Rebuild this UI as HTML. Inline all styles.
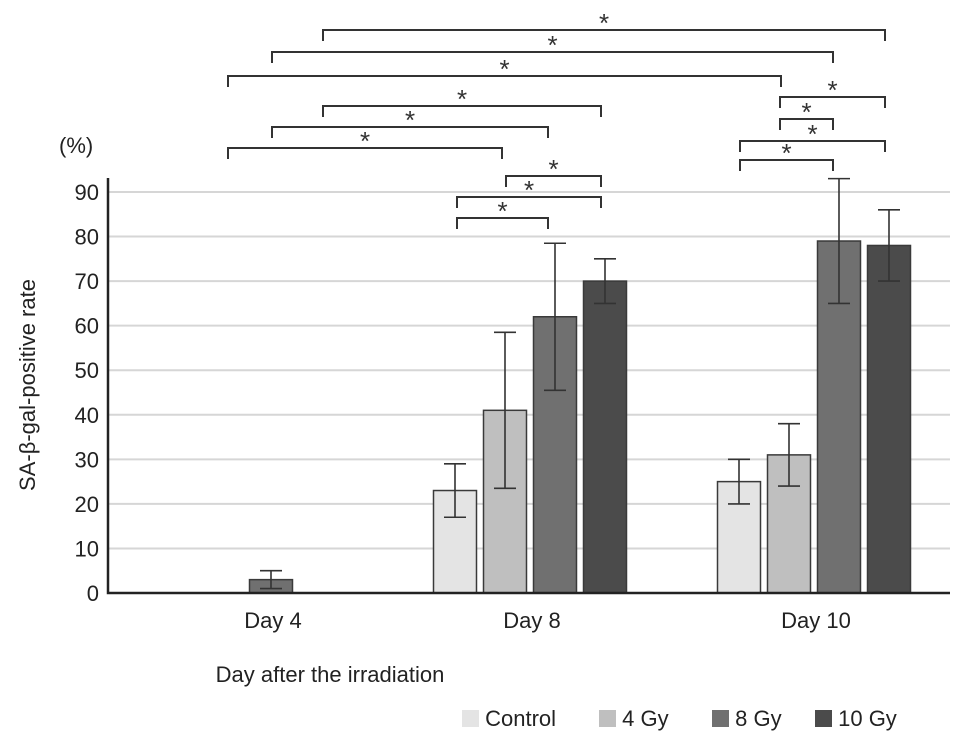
<!DOCTYPE html>
<html><head><meta charset="utf-8"><style>
body{margin:0;background:#fff;}
svg{display:block;font-family:"Liberation Sans",Arial,sans-serif;}
</style></head><body>
<svg id="chart" width="969" height="747" viewBox="0 0 969 747"></svg>
<script>
const categories = ["Day 4","Day 8","Day 10"];
const series = ["Control","4 Gy","8 Gy","10 Gy"];
const controlVals = [0,23,25];
const gy4Vals = [0,41,31];
const gy8Vals = [3,62,79];
const gy10Vals = [0,70,78];
const controlErr = [0,6,5];
const gy4Err = [0,17.5,7];
const gy8Err = [2,16.5,14];
const gy10Err = [0,5,8];
const yTicks = [0,10,20,30,40,50,60,70,80,90];
const colors = ["#e4e4e4","#bfbfbf","#707070","#4b4b4b"];

const NS="http://www.w3.org/2000/svg";
const svg=document.getElementById('chart');
function mk(tag,attrs,parent){const e=document.createElementNS(NS,tag);for(const k in attrs)e.setAttribute(k,attrs[k]);(parent||svg).appendChild(e);return e;}
const y0=593, yTop=192, yMax=90;
function yS(v){return y0-(v/yMax)*(y0-yTop);}
function xC(i){return 246+i*284;}
const barW=43, step=50;

yTicks.forEach(t=>{
  if(t>0){const g=mk('line',{x1:108,x2:950,y1:yS(t),y2:yS(t),stroke:'#d6d6d6','stroke-width':2});
  
  }
  const l=mk('text',{x:99,y:yS(t)+8,'text-anchor':'end','font-size':22,fill:'#222'});
  l.textContent=t;
  
  
});
const vals=[controlVals,gy4Vals,gy8Vals,gy10Vals];
const errs=[controlErr,gy4Err,gy8Err,gy10Err];
categories.forEach((c,i)=>{
  let sum=0,n=0;
  vals.forEach((s,j)=>{
    const v=s[i]; if(v<=0)return;
    const cx = xC(i)+(j-1.5)*step;
    sum+=cx;n++;
    const r=mk('rect',{x:cx-barW/2,y:yS(v),width:barW,height:yS(0)-yS(v),fill:colors[j],stroke:'#3a3a3a','stroke-width':1.5});
    
    
    const e=errs[j][i];
    const eg=mk('path',{d:`M${cx},${yS(v-e)}V${yS(v+e)}M${cx-11},${yS(v+e)}h22M${cx-11},${yS(v-e)}h22`,stroke:'#333','stroke-width':1.6,fill:'none'});
    
    
  });
  const lx = n ? sum/n : xC(i);
  const t=mk('text',{x:lx+2,y:628,'text-anchor':'middle','font-size':22,fill:'#222'});
  t.textContent=c;
  
  
});
const ax=mk('path',{d:'M108,178V593H950',stroke:'#222','stroke-width':2.5,fill:'none'});



const brackets=[[228,502,148],[272,548,127],[323,601,106],[228,781,76],[272,833,52],[323,885,30],
[457,548,218],[457,601,197],[506,601,176],[740,833,160],[740,885,141],[780,833,119],[780,885,97]];
brackets.forEach(b=>{
  const p=mk('path',{d:`M${b[0]},${b[2]+11}V${b[2]}H${b[1]}V${b[2]+11}`,stroke:'#333','stroke-width':2,fill:'none'});
  
  
  const s=mk('text',{x:(b[0]+b[1])/2,y:b[2]+2,'text-anchor':'middle','font-size':26,fill:'#333'});
  s.textContent='*';
  
  
});
</script>
<div style="position:absolute;left:0;top:0;width:969px;height:747px;pointer-events:none;font-family:'Liberation Sans',Arial,sans-serif;color:#222;">
  <div style="position:absolute;left:59px;top:133px;font-size:22px;">(%)</div>
  <div style="position:absolute;left:28px;top:385px;font-size:22px;white-space:nowrap;transform:translate(-50%,-50%) rotate(-90deg);">SA-β-gal-positive rate</div>
  <div style="position:absolute;left:330px;top:662px;font-size:22px;white-space:nowrap;transform:translateX(-50%);">Day after the irradiation</div>
  <div style="position:absolute;left:462px;top:706px;font-size:22px;white-space:nowrap;">
    <span style="position:absolute;left:0;top:0;"><i style="display:inline-block;width:17px;height:17px;background:#e4e4e4;vertical-align:-1px;"></i> Control</span>
    <span style="position:absolute;left:137px;top:0;"><i style="display:inline-block;width:17px;height:17px;background:#bfbfbf;vertical-align:-1px;"></i> 4 Gy</span>
    <span style="position:absolute;left:250px;top:0;"><i style="display:inline-block;width:17px;height:17px;background:#707070;vertical-align:-1px;"></i> 8 Gy</span>
    <span style="position:absolute;left:353px;top:0;"><i style="display:inline-block;width:17px;height:17px;background:#4b4b4b;vertical-align:-1px;"></i> 10 Gy</span>
  </div>
</div>
</body></html>
